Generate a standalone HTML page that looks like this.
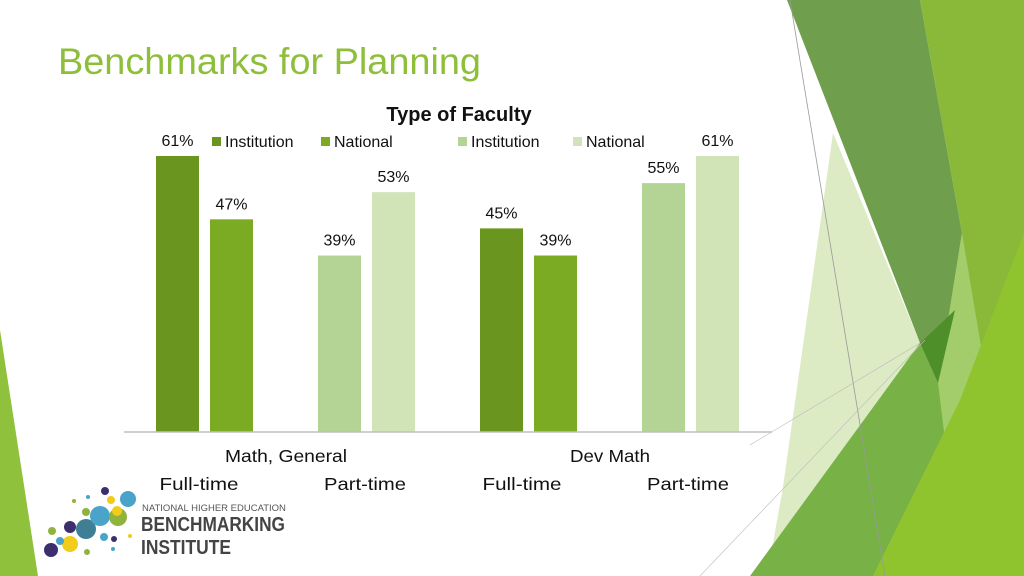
<!DOCTYPE html>
<html><head><meta charset="utf-8"><style>
body{margin:0;width:1024px;height:576px;overflow:hidden;background:#fff;font-family:"Liberation Sans",sans-serif;}
svg{position:absolute;left:0;top:0}
</style></head><body>
<svg width="1024" height="576">
<g>
<polygon points="833,133 920,343 770,560 783,487" fill="#dcebc4"/>
<polygon points="920,0 1024,0 1024,576 900,576 938,383 962,233" fill="#8ab93a"/>
<polygon points="787,0 920,0 962,233 938,383 920,343" fill="#6f9f4c"/>
<polygon points="962,233 990,400 940,470 938,383" fill="#a2cd6a"/>
<polygon points="750,576 920,343 938,383 950,480 890,576" fill="#78b246"/>
<polygon points="1024,233 1024,576 873,576 960,400" fill="#90c42f"/>
<polygon points="920,343 955,310 938,383" fill="#4f8f2a"/>
<line x1="790" y1="0" x2="885" y2="576" stroke="#999" stroke-width="0.8"/>
<line x1="700" y1="576" x2="925" y2="340" stroke="#bbb" stroke-width="0.6"/>
<line x1="750" y1="445" x2="920" y2="343" stroke="#bbb" stroke-width="0.6"/>
</g>
<polygon points="0,330 38,576 0,576" fill="#8fc13c"/>
<text x="58" y="74" font-size="37" fill="#8dbf3a" textLength="423" lengthAdjust="spacingAndGlyphs">Benchmarks for Planning</text>
<text x="459" y="121" font-size="20" font-weight="bold" text-anchor="middle" fill="#111">Type of Faculty</text>
<g id="legend"></g>
<g id="bars"></g>
<line x1="124" y1="432" x2="772" y2="432" stroke="#bfbfbf" stroke-width="1.5"/>
<text x="286" y="462" font-size="17.5" text-anchor="middle" fill="#111" textLength="122" lengthAdjust="spacingAndGlyphs">Math, General</text>
<text x="610" y="462" font-size="17.5" text-anchor="middle" fill="#111" textLength="80" lengthAdjust="spacingAndGlyphs">Dev Math</text>
<text x="199" y="490" font-size="17.5" text-anchor="middle" fill="#111" textLength="79" lengthAdjust="spacingAndGlyphs">Full-time</text>
<text x="365" y="490" font-size="17.5" text-anchor="middle" fill="#111" textLength="82" lengthAdjust="spacingAndGlyphs">Part-time</text>
<text x="522" y="490" font-size="17.5" text-anchor="middle" fill="#111" textLength="79" lengthAdjust="spacingAndGlyphs">Full-time</text>
<text x="688" y="490" font-size="17.5" text-anchor="middle" fill="#111" textLength="82" lengthAdjust="spacingAndGlyphs">Part-time</text>
<g>
<circle cx="51" cy="550" r="7" fill="#3d2f6e"/><circle cx="70" cy="544" r="8" fill="#f2cc1a"/>
<circle cx="60" cy="541" r="4" fill="#4aa3c8"/><circle cx="86" cy="529" r="10" fill="#3f7f95"/>
<circle cx="70" cy="527" r="6" fill="#3d2f6e"/><circle cx="52" cy="531" r="4" fill="#8fb33c"/>
<circle cx="100" cy="516" r="10" fill="#4aa3c8"/><circle cx="118" cy="517" r="9" fill="#8fb33c"/>
<circle cx="86" cy="512" r="4" fill="#8fb33c"/><circle cx="117" cy="511" r="5" fill="#f2cc1a"/>
<circle cx="128" cy="499" r="8" fill="#4aa3c8"/><circle cx="111" cy="500" r="4" fill="#f2cc1a"/>
<circle cx="105" cy="491" r="4" fill="#3d2f6e"/><circle cx="104" cy="537" r="4" fill="#4aa3c8"/>
<circle cx="114" cy="539" r="3" fill="#3d2f6e"/><circle cx="87" cy="552" r="3" fill="#8fb33c"/>
<circle cx="74" cy="501" r="2" fill="#8fb33c"/><circle cx="88" cy="497" r="2" fill="#4aa3c8"/>
<circle cx="130" cy="536" r="2" fill="#f2cc1a"/><circle cx="113" cy="549" r="2" fill="#4aa3c8"/>
<text x="142" y="511" font-size="9.5" fill="#555">NATIONAL HIGHER EDUCATION</text>
<text x="141" y="531" font-size="20" font-weight="bold" fill="#444" textLength="144" lengthAdjust="spacingAndGlyphs">BENCHMARKING</text>
<text x="141" y="554" font-size="20" font-weight="bold" fill="#444" textLength="90" lengthAdjust="spacingAndGlyphs">INSTITUTE</text>
</g>
</svg>
<script>
const seriesNames=["Institution","National","Institution","National"];
const seriesColors=["#6a961f","#7bab22","#b3d494","#d0e4b7"];
const values=[61,47,39,53,45,39,55,61];
const labels=["61%","47%","39%","53%","45%","39%","55%","61%"];
const NS="http://www.w3.org/2000/svg";
const base=432, perPct=4.525;
function y(v){return base-v*perPct;}
function xPos(i){const grp=Math.floor(i/4), k=i%4;return 156+grp*324+k*54+(k>=2?54:0);}
const bars=document.getElementById('bars');
values.forEach((v,i)=>{
 const r=document.createElementNS(NS,'rect');
 r.setAttribute('x',xPos(i));r.setAttribute('y',y(v));r.setAttribute('width',43);r.setAttribute('height',base-y(v));
 r.setAttribute('fill',seriesColors[i%4]);
 
 
 bars.appendChild(r);
 const t=document.createElementNS(NS,'text');
 t.setAttribute('x',xPos(i)+21.5);t.setAttribute('y',y(v)-10);t.setAttribute('font-size','16');t.setAttribute('text-anchor','middle');t.setAttribute('fill','#111');
 t.textContent=labels[i];
 
 
 bars.appendChild(t);
});
const lg=document.getElementById('legend');
const legX=[212,321,458,573];
seriesNames.forEach((n,i)=>{
 const g=document.createElementNS(NS,'g');
 
 
 const s=document.createElementNS(NS,'rect');
 s.setAttribute('x',legX[i]);s.setAttribute('y',137);s.setAttribute('width',9);s.setAttribute('height',9);s.setAttribute('fill',seriesColors[i]);
 const t=document.createElementNS(NS,'text');
 t.setAttribute('x',legX[i]+13);t.setAttribute('y',147);t.setAttribute('font-size','16');t.setAttribute('fill','#111');
 t.textContent=n;
 g.appendChild(s);g.appendChild(t);lg.appendChild(g);
});
</script>
</body></html>
